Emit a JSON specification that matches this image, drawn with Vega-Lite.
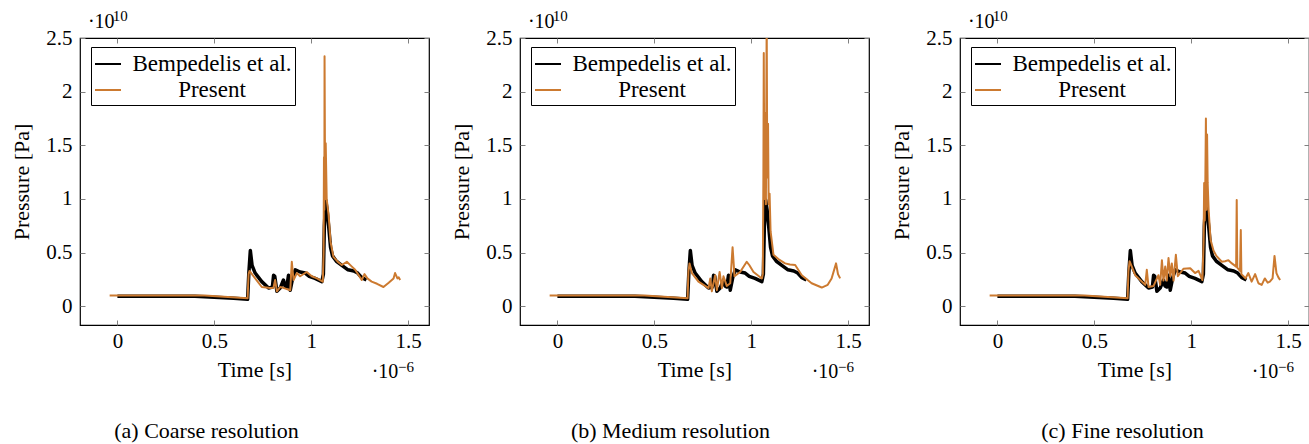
{
  "$schema": "https://vega.github.io/schema/vega-lite/v6.json",
  "padding": {"left": 10, "top": 8, "right": 0, "bottom": 0},
  "autosize": {"type": "pad"},
  "background": "white",
  "datasets": {
    "bemp": [
      {"t": 0, "p": 0.095}, {"t": 0.2, "p": 0.095}, {"t": 0.4, "p": 0.095}, {"t": 0.5, "p": 0.085}, {"t": 0.6, "p": 0.075}, {"t": 0.672, "p": 0.065},
      {"t": 0.678, "p": 0.3}, {"t": 0.686, "p": 0.52}, {"t": 0.695, "p": 0.38}, {"t": 0.711, "p": 0.31}, {"t": 0.745, "p": 0.23}, {"t": 0.78, "p": 0.17},
      {"t": 0.8, "p": 0.18}, {"t": 0.806, "p": 0.29}, {"t": 0.812, "p": 0.28}, {"t": 0.823, "p": 0.14}, {"t": 0.84, "p": 0.17}, {"t": 0.857, "p": 0.245},
      {"t": 0.865, "p": 0.19}, {"t": 0.874, "p": 0.18}, {"t": 0.883, "p": 0.29}, {"t": 0.892, "p": 0.15}, {"t": 0.905, "p": 0.27}, {"t": 0.918, "p": 0.34},
      {"t": 0.943, "p": 0.32}, {"t": 0.969, "p": 0.31}, {"t": 0.99, "p": 0.28}, {"t": 1.02, "p": 0.26}, {"t": 1.055, "p": 0.23}, {"t": 1.063, "p": 0.3},
      {"t": 1.068, "p": 0.75}, {"t": 1.075, "p": 0.99}, {"t": 1.082, "p": 0.9}, {"t": 1.09, "p": 0.75}, {"t": 1.1, "p": 0.55}, {"t": 1.11, "p": 0.47},
      {"t": 1.13, "p": 0.42}, {"t": 1.16, "p": 0.38}, {"t": 1.19, "p": 0.34}, {"t": 1.22, "p": 0.33}, {"t": 1.24, "p": 0.31}, {"t": 1.26, "p": 0.27}, {"t": 1.285, "p": 0.245}
    ],
    "coarse": [
      {"t": -0.04, "p": 0.1}, {"t": 0.2, "p": 0.1}, {"t": 0.45, "p": 0.1}, {"t": 0.55, "p": 0.09}, {"t": 0.672, "p": 0.075}, {"t": 0.677, "p": 0.3},
      {"t": 0.682, "p": 0.33}, {"t": 0.703, "p": 0.28}, {"t": 0.745, "p": 0.18}, {"t": 0.789, "p": 0.17}, {"t": 0.805, "p": 0.17}, {"t": 0.814, "p": 0.245},
      {"t": 0.823, "p": 0.14}, {"t": 0.84, "p": 0.18}, {"t": 0.86, "p": 0.17}, {"t": 0.892, "p": 0.15}, {"t": 0.9, "p": 0.415}, {"t": 0.909, "p": 0.245},
      {"t": 0.926, "p": 0.31}, {"t": 0.943, "p": 0.28}, {"t": 0.977, "p": 0.32}, {"t": 1.003, "p": 0.28}, {"t": 1.03, "p": 0.26}, {"t": 1.06, "p": 0.23},
      {"t": 1.064, "p": 0.5}, {"t": 1.066, "p": 1.39}, {"t": 1.068, "p": 0.9}, {"t": 1.069, "p": 2.33}, {"t": 1.072, "p": 1.0}, {"t": 1.075, "p": 1.52},
      {"t": 1.08, "p": 1.0}, {"t": 1.09, "p": 0.85}, {"t": 1.1, "p": 0.6}, {"t": 1.115, "p": 0.46}, {"t": 1.14, "p": 0.41}, {"t": 1.158, "p": 0.385},
      {"t": 1.184, "p": 0.415}, {"t": 1.21, "p": 0.37}, {"t": 1.227, "p": 0.34}, {"t": 1.261, "p": 0.245}, {"t": 1.275, "p": 0.3}, {"t": 1.29, "p": 0.26},
      {"t": 1.312, "p": 0.23}, {"t": 1.34, "p": 0.21}, {"t": 1.373, "p": 0.18}, {"t": 1.4, "p": 0.22}, {"t": 1.425, "p": 0.26}, {"t": 1.433, "p": 0.31},
      {"t": 1.445, "p": 0.26}, {"t": 1.452, "p": 0.27}, {"t": 1.459, "p": 0.245}
    ],
    "medium": [
      {"t": -0.04, "p": 0.1}, {"t": 0.2, "p": 0.1}, {"t": 0.45, "p": 0.1}, {"t": 0.55, "p": 0.09}, {"t": 0.672, "p": 0.075}, {"t": 0.676, "p": 0.32},
      {"t": 0.682, "p": 0.4}, {"t": 0.694, "p": 0.31}, {"t": 0.728, "p": 0.23}, {"t": 0.78, "p": 0.17}, {"t": 0.789, "p": 0.26}, {"t": 0.797, "p": 0.14},
      {"t": 0.814, "p": 0.29}, {"t": 0.823, "p": 0.15}, {"t": 0.837, "p": 0.32}, {"t": 0.849, "p": 0.17}, {"t": 0.857, "p": 0.28}, {"t": 0.874, "p": 0.19},
      {"t": 0.892, "p": 0.215}, {"t": 0.904, "p": 0.55}, {"t": 0.914, "p": 0.28}, {"t": 0.943, "p": 0.32}, {"t": 0.977, "p": 0.415}, {"t": 0.99, "p": 0.385},
      {"t": 1.012, "p": 0.32}, {"t": 1.055, "p": 0.26}, {"t": 1.06, "p": 0.3}, {"t": 1.063, "p": 1.2}, {"t": 1.065, "p": 2.36}, {"t": 1.068, "p": 1.0},
      {"t": 1.072, "p": 1.8}, {"t": 1.076, "p": 0.95}, {"t": 1.08, "p": 2.7}, {"t": 1.083, "p": 1.2}, {"t": 1.087, "p": 1.7}, {"t": 1.09, "p": 0.95},
      {"t": 1.095, "p": 1.05}, {"t": 1.1, "p": 0.7}, {"t": 1.115, "p": 0.48}, {"t": 1.14, "p": 0.44}, {"t": 1.175, "p": 0.4}, {"t": 1.2, "p": 0.39},
      {"t": 1.227, "p": 0.385}, {"t": 1.261, "p": 0.29}, {"t": 1.312, "p": 0.215}, {"t": 1.364, "p": 0.175}, {"t": 1.395, "p": 0.2}, {"t": 1.415, "p": 0.26},
      {"t": 1.438, "p": 0.4}, {"t": 1.448, "p": 0.3}, {"t": 1.459, "p": 0.26}
    ],
    "fine": [
      {"t": -0.04, "p": 0.1}, {"t": 0.2, "p": 0.1}, {"t": 0.45, "p": 0.1}, {"t": 0.55, "p": 0.09}, {"t": 0.672, "p": 0.075}, {"t": 0.676, "p": 0.32},
      {"t": 0.682, "p": 0.42}, {"t": 0.711, "p": 0.29}, {"t": 0.763, "p": 0.2}, {"t": 0.771, "p": 0.34}, {"t": 0.78, "p": 0.18}, {"t": 0.806, "p": 0.19},
      {"t": 0.831, "p": 0.29}, {"t": 0.84, "p": 0.2}, {"t": 0.849, "p": 0.43}, {"t": 0.857, "p": 0.24}, {"t": 0.866, "p": 0.37}, {"t": 0.874, "p": 0.24},
      {"t": 0.883, "p": 0.45}, {"t": 0.892, "p": 0.28}, {"t": 0.9, "p": 0.4}, {"t": 0.909, "p": 0.24}, {"t": 0.921, "p": 0.48}, {"t": 0.931, "p": 0.28},
      {"t": 0.96, "p": 0.35}, {"t": 0.995, "p": 0.355}, {"t": 1.02, "p": 0.31}, {"t": 1.038, "p": 0.33}, {"t": 1.058, "p": 0.245}, {"t": 1.064, "p": 0.6},
      {"t": 1.067, "p": 1.15}, {"t": 1.07, "p": 0.8}, {"t": 1.073, "p": 1.15}, {"t": 1.076, "p": 1.75}, {"t": 1.079, "p": 0.9}, {"t": 1.082, "p": 1.6},
      {"t": 1.085, "p": 1.15}, {"t": 1.09, "p": 0.9}, {"t": 1.1, "p": 0.62}, {"t": 1.115, "p": 0.52}, {"t": 1.13, "p": 0.47}, {"t": 1.158, "p": 0.415},
      {"t": 1.175, "p": 0.42}, {"t": 1.192, "p": 0.43}, {"t": 1.21, "p": 0.4}, {"t": 1.232, "p": 0.37}, {"t": 1.235, "p": 0.99}, {"t": 1.238, "p": 0.36},
      {"t": 1.252, "p": 0.33}, {"t": 1.256, "p": 0.71}, {"t": 1.259, "p": 0.3}, {"t": 1.27, "p": 0.28}, {"t": 1.28, "p": 0.26}, {"t": 1.295, "p": 0.31},
      {"t": 1.312, "p": 0.23}, {"t": 1.33, "p": 0.3}, {"t": 1.347, "p": 0.215}, {"t": 1.364, "p": 0.2}, {"t": 1.38, "p": 0.26}, {"t": 1.395, "p": 0.22},
      {"t": 1.406, "p": 0.23}, {"t": 1.42, "p": 0.26}, {"t": 1.43, "p": 0.47}, {"t": 1.44, "p": 0.31}, {"t": 1.45, "p": 0.27}, {"t": 1.459, "p": 0.245}
    ]
  },
  "hconcat": [
    {
      "width": 349, "height": 287,
      "title": {"text": "(a) Coarse resolution", "orient": "bottom", "anchor": "middle", "dx": -48, "offset": 39},
      "layer": [
        {"data": {"name": "bemp"}, "mark": {"type": "line", "clip": true, "strokeJoin": "round", "strokeWidth": 3.5},
         "encoding": {
           "x": {"field": "t", "type": "quantitative", "scale": {"domain": [-0.193, 1.608], "nice": false, "zero": false}, "axis": {"orient": "bottom", "values": [0, 0.5, 1, 1.5], "format": "~g", "title": "Time [s]"}},
           "y": {"field": "p", "type": "quantitative", "scale": {"domain": [-0.174, 2.5], "nice": false, "zero": false}, "axis": {"orient": "left", "values": [0, 0.5, 1, 1.5, 2, 2.5], "format": "~g", "title": "Pressure [Pa]"}},
           "color": {"datum": "Bempedelis et al.", "type": "nominal", "scale": {"domain": ["Bempedelis et al.", "Present"], "range": ["#000000", "#CC7A30"]}, "legend": {"title": null}}
         }},
        {"data": {"name": "coarse"}, "mark": {"type": "line", "clip": true, "strokeJoin": "round", "strokeWidth": 2},
         "encoding": {
           "x": {"field": "t", "type": "quantitative", "axis": {"orient": "top", "values": [0, 0.5, 1, 1.5], "labels": false, "title": null}},
           "y": {"field": "p", "type": "quantitative", "axis": {"orient": "right", "values": [0, 0.5, 1, 1.5, 2, 2.5], "labels": false, "title": null}},
           "color": {"datum": "Present", "type": "nominal"}
         }},
        {"data": {"values": [{}]}, "mark": {"type": "text", "text": "·10", "align": "left", "baseline": "alphabetic", "fontSize": 20, "color": "black"},
         "encoding": {"x": {"datum": -0.152, "type": "quantitative", "axis": null}, "y": {"datum": 2.59, "type": "quantitative", "axis": null}}},
        {"data": {"values": [{}]}, "mark": {"type": "text", "text": "10", "align": "left", "baseline": "alphabetic", "fontSize": 15, "color": "black"},
         "encoding": {"x": {"datum": -0.024, "type": "quantitative", "axis": null}, "y": {"datum": 2.66, "type": "quantitative", "axis": null}}},
        {"data": {"values": [{}]}, "mark": {"type": "text", "text": "·10", "align": "left", "baseline": "alphabetic", "fontSize": 20, "color": "black"},
         "encoding": {"x": {"datum": 1.312, "type": "quantitative", "axis": null}, "y": {"datum": -0.671, "type": "quantitative", "axis": null}}},
        {"data": {"values": [{}]}, "mark": {"type": "text", "text": "−6", "align": "left", "baseline": "alphabetic", "fontSize": 15, "color": "black"},
         "encoding": {"x": {"datum": 1.448, "type": "quantitative", "axis": null}, "y": {"datum": -0.609, "type": "quantitative", "axis": null}}}
      ],
      "resolve": {"axis": {"x": "independent", "y": "independent"}}
    },
    {
      "width": 349, "height": 287,
      "title": {"text": "(b) Medium resolution", "orient": "bottom", "anchor": "middle", "dx": -24, "offset": 39},
      "layer": [
        {"data": {"name": "bemp"}, "mark": {"type": "line", "clip": true, "strokeJoin": "round", "strokeWidth": 3.5},
         "encoding": {
           "x": {"field": "t", "type": "quantitative", "scale": {"domain": [-0.193, 1.608], "nice": false, "zero": false}, "axis": {"orient": "bottom", "values": [0, 0.5, 1, 1.5], "format": "~g", "title": "Time [s]"}},
           "y": {"field": "p", "type": "quantitative", "scale": {"domain": [-0.174, 2.5], "nice": false, "zero": false}, "axis": {"orient": "left", "values": [0, 0.5, 1, 1.5, 2, 2.5], "format": "~g", "title": "Pressure [Pa]"}},
           "color": {"datum": "Bempedelis et al.", "type": "nominal", "scale": {"domain": ["Bempedelis et al.", "Present"], "range": ["#000000", "#CC7A30"]}, "legend": {"title": null}}
         }},
        {"data": {"name": "medium"}, "mark": {"type": "line", "clip": true, "strokeJoin": "round", "strokeWidth": 2},
         "encoding": {
           "x": {"field": "t", "type": "quantitative", "axis": {"orient": "top", "values": [0, 0.5, 1, 1.5], "labels": false, "title": null}},
           "y": {"field": "p", "type": "quantitative", "axis": {"orient": "right", "values": [0, 0.5, 1, 1.5, 2, 2.5], "labels": false, "title": null}},
           "color": {"datum": "Present", "type": "nominal"}
         }},
        {"data": {"values": [{}]}, "mark": {"type": "text", "text": "·10", "align": "left", "baseline": "alphabetic", "fontSize": 20, "color": "black"},
         "encoding": {"x": {"datum": -0.152, "type": "quantitative", "axis": null}, "y": {"datum": 2.59, "type": "quantitative", "axis": null}}},
        {"data": {"values": [{}]}, "mark": {"type": "text", "text": "10", "align": "left", "baseline": "alphabetic", "fontSize": 15, "color": "black"},
         "encoding": {"x": {"datum": -0.024, "type": "quantitative", "axis": null}, "y": {"datum": 2.66, "type": "quantitative", "axis": null}}},
        {"data": {"values": [{}]}, "mark": {"type": "text", "text": "·10", "align": "left", "baseline": "alphabetic", "fontSize": 20, "color": "black"},
         "encoding": {"x": {"datum": 1.312, "type": "quantitative", "axis": null}, "y": {"datum": -0.671, "type": "quantitative", "axis": null}}},
        {"data": {"values": [{}]}, "mark": {"type": "text", "text": "−6", "align": "left", "baseline": "alphabetic", "fontSize": 15, "color": "black"},
         "encoding": {"x": {"datum": 1.448, "type": "quantitative", "axis": null}, "y": {"datum": -0.609, "type": "quantitative", "axis": null}}}
      ],
      "resolve": {"axis": {"x": "independent", "y": "independent"}}
    },
    {
      "width": 349, "height": 287,
      "title": {"text": "(c) Fine resolution", "orient": "bottom", "anchor": "middle", "dx": -12, "offset": 39},
      "layer": [
        {"data": {"name": "bemp"}, "mark": {"type": "line", "clip": true, "strokeJoin": "round", "strokeWidth": 3.5},
         "encoding": {
           "x": {"field": "t", "type": "quantitative", "scale": {"domain": [-0.193, 1.608], "nice": false, "zero": false}, "axis": {"orient": "bottom", "values": [0, 0.5, 1, 1.5], "format": "~g", "title": "Time [s]"}},
           "y": {"field": "p", "type": "quantitative", "scale": {"domain": [-0.174, 2.5], "nice": false, "zero": false}, "axis": {"orient": "left", "values": [0, 0.5, 1, 1.5, 2, 2.5], "format": "~g", "title": "Pressure [Pa]"}},
           "color": {"datum": "Bempedelis et al.", "type": "nominal", "scale": {"domain": ["Bempedelis et al.", "Present"], "range": ["#000000", "#CC7A30"]}, "legend": {"title": null}}
         }},
        {"data": {"name": "fine"}, "mark": {"type": "line", "clip": true, "strokeJoin": "round", "strokeWidth": 2},
         "encoding": {
           "x": {"field": "t", "type": "quantitative", "axis": {"orient": "top", "values": [0, 0.5, 1, 1.5], "labels": false, "title": null}},
           "y": {"field": "p", "type": "quantitative", "axis": {"orient": "right", "values": [0, 0.5, 1, 1.5, 2, 2.5], "labels": false, "title": null}},
           "color": {"datum": "Present", "type": "nominal"}
         }},
        {"data": {"values": [{}]}, "mark": {"type": "text", "text": "·10", "align": "left", "baseline": "alphabetic", "fontSize": 20, "color": "black"},
         "encoding": {"x": {"datum": -0.152, "type": "quantitative", "axis": null}, "y": {"datum": 2.59, "type": "quantitative", "axis": null}}},
        {"data": {"values": [{}]}, "mark": {"type": "text", "text": "10", "align": "left", "baseline": "alphabetic", "fontSize": 15, "color": "black"},
         "encoding": {"x": {"datum": -0.024, "type": "quantitative", "axis": null}, "y": {"datum": 2.66, "type": "quantitative", "axis": null}}},
        {"data": {"values": [{}]}, "mark": {"type": "text", "text": "·10", "align": "left", "baseline": "alphabetic", "fontSize": 20, "color": "black"},
         "encoding": {"x": {"datum": 1.312, "type": "quantitative", "axis": null}, "y": {"datum": -0.671, "type": "quantitative", "axis": null}}},
        {"data": {"values": [{}]}, "mark": {"type": "text", "text": "−6", "align": "left", "baseline": "alphabetic", "fontSize": 15, "color": "black"},
         "encoding": {"x": {"datum": 1.448, "type": "quantitative", "axis": null}, "y": {"datum": -0.609, "type": "quantitative", "axis": null}}}
      ],
      "resolve": {"axis": {"x": "independent", "y": "independent"}}
    }
  ],
  "spacing": 91,
  "bounds": "flush",
  "resolve": {"scale": {"color": "independent"}, "legend": {"color": "independent"}},
  "config": {
    "font": "'Liberation Serif', 'DejaVu Serif', serif",
    "text": {"font": "'Liberation Serif', 'DejaVu Serif', serif"},
    "view": {"stroke": "black", "strokeWidth": 1.2},
    "axis": {"labelFont": "'Liberation Serif', 'DejaVu Serif', serif", "titleFont": "'Liberation Serif', 'DejaVu Serif', serif", "labelFontSize": 21, "titleFontSize": 22, "titleFontWeight": "normal", "labelColor": "black", "titleColor": "black", "grid": false, "domain": false, "tickSize": -5, "tickColor": "#808080", "tickWidth": 1},
    "axisBottom": {"labelPadding": 10, "titlePadding": 8},
    "axisLeft": {"labelPadding": 13, "titlePadding": 12},
    "title": {"font": "'Liberation Serif', 'DejaVu Serif', serif", "fontSize": 22, "fontWeight": "normal", "color": "black"},
    "legend": {"orient": "none", "legendX": 11, "legendY": 9, "strokeColor": "black", "fillColor": "white", "padding": 3, "labelFont": "'Liberation Serif', 'DejaVu Serif', serif", "labelFontSize": 23, "labelColor": "black", "labelAlign": "center", "labelOffset": 90, "labelLimit": 400, "symbolSize": 676, "rowPadding": -4, "symbolType": "stroke",
      "symbolStrokeWidth": 2,
      "encode": {"symbols": {"update": {"strokeWidth": {"signal": "datum.value === 'Present' ? 2 : 4"}}}}}
  }
}
